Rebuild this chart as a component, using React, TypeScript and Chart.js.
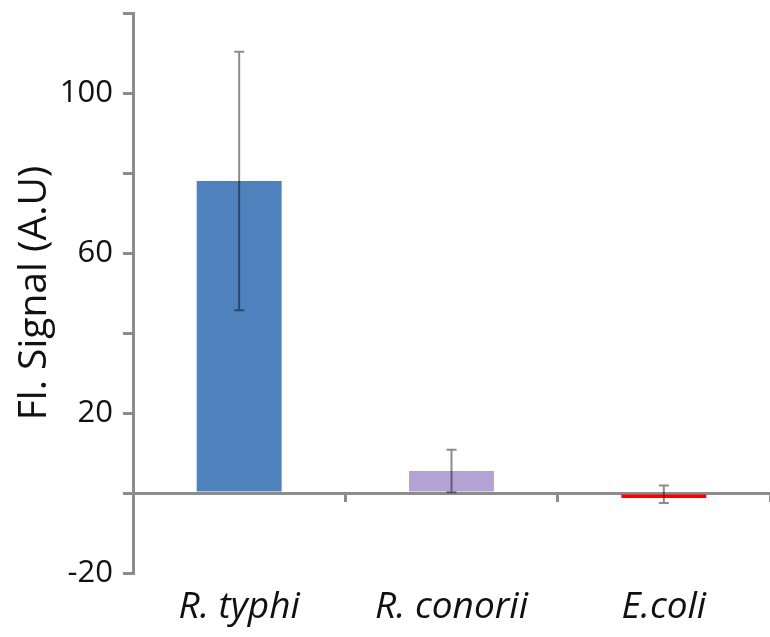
import React, { useEffect, useRef } from 'react';
import { Chart, registerables } from 'chart.js';

Chart.register(...registerables);

const categories = ['R. typhi', 'R. conorii', 'E.coli'];
const values = [78, 5.5, -0.3];
const errors = [32.3, 5.3, 2.2];
const barColors = ['#4F81BD', '#B3A2D3', '#FF0000'];
const yTickLabels = [-20, 20, 60, 100];
const yTitle = 'Fl. Signal (A.U)';

const AXIS_GRAY = '#8c8c8c';
const FONT = '"Open Sans", "Noto Sans", sans-serif';

const errorBarPlugin = {
  id: 'errorBars',
  afterDatasetsDraw(chart: any) {
    const meta = chart.getDatasetMeta(0);
    const yScale = chart.scales.y;
    const ctx = chart.ctx;
    ctx.save();
    ctx.strokeStyle = 'rgba(0,0,0,0.45)';
    ctx.lineWidth = 2;
    meta.data.forEach((bar: any, i: number) => {
      const x = bar.x;
      const top = yScale.getPixelForValue(values[i] + errors[i]);
      const bot = yScale.getPixelForValue(values[i] - errors[i]);
      const cap = 5;
      ctx.beginPath();
      ctx.moveTo(x, top);
      ctx.lineTo(x, bot);
      ctx.moveTo(x - cap, top);
      ctx.lineTo(x + cap, top);
      ctx.moveTo(x - cap, bot);
      ctx.lineTo(x + cap, bot);
      ctx.stroke();
    });
    ctx.restore();
  },
};

export default function App() {
  const canvasRef = useRef<HTMLCanvasElement | null>(null);

  useEffect(() => {
    if (!canvasRef.current) return;
    const chart = new Chart(canvasRef.current, {
      type: 'bar',
      data: {
        labels: categories,
        datasets: [
          {
            data: values,
            backgroundColor: barColors,
            borderWidth: 0,
            minBarLength: 5,
            categoryPercentage: 1,
            barPercentage: 0.4,
          },
        ],
      },
      options: {
        animation: false,
        responsive: false,
        layout: { padding: { top: 13, right: 0, left: 0, bottom: 0 } },
        plugins: {
          legend: { display: false },
          tooltip: { enabled: false },
        },
        scales: {
          x: {
            position: 'bottom',
            grid: { display: false, drawTicks: false },
            border: { display: false },
            ticks: {
              color: '#111',
              padding: 12,
              font: { family: FONT, size: 37, style: 'italic' },
            },
            afterFit(scale: any) {
              scale.height = 64;
              scale.paddingLeft = 0;
              scale.paddingRight = 0;
            },
          },
          x2: {
            type: 'category',
            position: { y: 0 } as any,
            grid: {
              display: true,
              drawOnChartArea: false,
              drawTicks: true,
              tickLength: 7,
              color: AXIS_GRAY,
              lineWidth: 3,
              offset: true,
            },
            border: { display: true, color: AXIS_GRAY, width: 3 },
            ticks: { display: false },
          },
          y: {
            min: -20,
            max: 120,
            grid: {
              drawOnChartArea: false,
              drawTicks: true,
              tickLength: 10,
              color: AXIS_GRAY,
              lineWidth: 3,
            },
            border: { display: true, color: AXIS_GRAY, width: 3 },
            ticks: {
              stepSize: 20,
              padding: 10,
              color: '#111',
              font: { family: FONT, size: 31 },
              callback: (v: any) => (yTickLabels.includes(Number(v)) ? String(v) : ''),
            },
            title: {
              display: true,
              text: yTitle,
              color: '#111',
              padding: { top: 11, bottom: 0 },
              font: { family: FONT, size: 39 },
            },
            afterFit(scale: any) {
              scale.width = 133;
              scale.paddingTop = 0;
              scale.paddingBottom = 0;
            },
          },
        },
      },
      plugins: [errorBarPlugin],
    });
    return () => chart.destroy();
  }, []);

  return (
    <div style={{ position: 'absolute', left: 0, top: 0, width: 770, height: 637, background: '#fff' }}>
      <canvas ref={canvasRef} width={770} height={637} style={{ display: 'block' }} />
    </div>
  );
}
